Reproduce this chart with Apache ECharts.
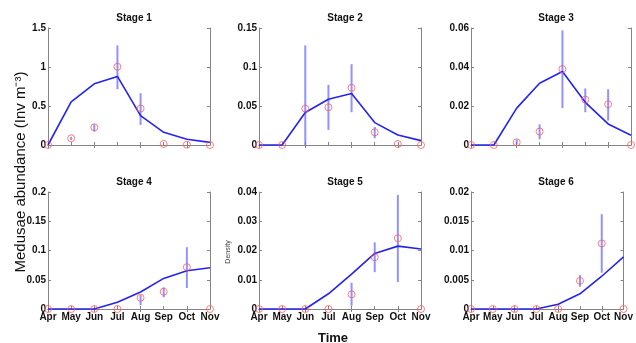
<!DOCTYPE html>
<html><head><meta charset="utf-8">
<script src="https://cdn.jsdelivr.net/npm/echarts@6/dist/echarts.min.js"></script>
<style>html,body{margin:0;padding:0;background:#fff}#c{width:636px;height:343px}</style>
</head><body><div id="c"></div>
<script>
var months = ['Apr','May','Jun','Jul','Aug','Sep','Oct','Nov'];
var titles = ['Stage 1','Stage 2','Stage 3','Stage 4','Stage 5','Stage 6'];
var yMax = [1.5, 0.15, 0.06, 0.2, 0.04, 0.02];
var yStep = [0.5, 0.05, 0.02, 0.05, 0.01, 0.005];

var model1 = [0, 0.553, 0.784, 0.879, 0.377, 0.163, 0.073, 0.034];
var model2 = [0, 0, 0.0416, 0.0587, 0.066, 0.0287, 0.0129, 0.0056];
var model3 = [0, 0, 0.0189, 0.0317, 0.0377, 0.0219, 0.0108, 0.005];
var model4 = [0, 0, 0, 0.0114, 0.029, 0.0523, 0.0653, 0.0705];
var model5 = [0, 0, 0, 0.0052, 0.0119, 0.019, 0.0215, 0.0205];
var model6 = [0, 0, 0, 0, 0.0008, 0.0026, 0.0056, 0.0089];

var obs1 = [0, 0.086, 0.227, 1.003, 0.467, 0.013, 0.004, 0];
var obs2 = [0, 0, 0.0467, 0.0484, 0.0733, 0.0163, 0.0013, 0];
var obs3 = [0, 0, 0.0014, 0.0069, 0.0389, 0.0233, 0.0209, 0];
var obs4 = [0, 0, 0, 0, 0.0193, 0.0295, 0.0716, 0];
var obs5 = [0, 0, 0, 0, 0.005, 0.0177, 0.0242, 0];
var obs6 = [0, 0, 0, 0, 0, 0.0048, 0.0112, 0];

var errLo1 = [null, 0.065, 0.171, 0.716, 0.257, null, null, null];
var errHi1 = [null, 0.105, 0.266, 1.277, 0.664, null, null, null];
var errLo2 = [null, null, 0, 0.0193, 0.042, 0.0086, null, null];
var errHi2 = [null, null, 0.1277, 0.0771, 0.1037, 0.0231, null, null];
var errLo3 = [null, null, 0.0003, 0.0029, 0.0189, 0.0168, 0.0125, null];
var errHi3 = [null, null, 0.0029, 0.0106, 0.0588, 0.029, 0.0286, null];
var errLo4 = [null, null, null, null, 0.0065, 0.02, 0.0358, null];
var errHi4 = [null, null, null, null, 0.0239, 0.037, 0.1057, null];
var errLo5 = [null, null, null, null, 0.0011, 0.0126, 0.0092, null];
var errHi5 = [null, null, null, null, 0.009, 0.0228, 0.039, null];
var errLo6 = [null, null, null, null, null, 0.0038, 0.0062, null];
var errHi6 = [null, null, null, null, null, 0.0058, 0.0162, null];

var models = [model1, model2, model3, model4, model5, model6];
var obs = [obs1, obs2, obs3, obs4, obs5, obs6];
var errLo = [errLo1, errLo2, errLo3, errLo4, errLo5, errLo6];
var errHi = [errHi1, errHi2, errHi3, errHi4, errHi5, errHi6];

var lefts = [48, 259, 471];
var widths = [162, 162, 160];
var tops = [28, 192];
var H = 117;
var axisCol = '#858585';
var lblStyle = {color: '#111', fontWeight: 'bold', fontSize: 10, fontFamily: 'Liberation Sans, Arial, sans-serif'};

var chart = echarts.init(document.getElementById('c'), null, {renderer: 'canvas'});
var grid = [], xAxis = [], yAxis = [], series = [], title = [];

for (var k = 0; k < 6; k++) {
  var col = k % 3, row = Math.floor(k / 3);
  grid.push({left: lefts[col], top: tops[row], width: widths[col], height: H, containLabel: false});
  title.push({text: titles[k], left: lefts[col] + widths[col] / 2, top: tops[row] - 20, textAlign: 'center',
    textStyle: {fontSize: 10, fontWeight: 'bold', color: '#111', fontFamily: 'Liberation Sans, Arial, sans-serif'}});
  var common = {type: 'category', data: months, boundaryGap: false, gridIndex: k,
    axisLine: {show: true, lineStyle: {color: axisCol, width: 1}},
    axisTick: {show: true, inside: true, length: 3, lineStyle: {color: axisCol}}, splitLine: {show: false}};
  xAxis.push(Object.assign({}, common, {position: 'bottom',
    axisLabel: {show: row === 1, margin: 3, interval: 0, ...lblStyle}}));
  xAxis.push(Object.assign({}, common, {position: 'top', axisLabel: {show: false}}));
  var ycommon = {type: 'value', gridIndex: k, min: 0, max: yMax[k], interval: yStep[k],
    axisLine: {show: true, lineStyle: {color: axisCol, width: 1}},
    axisTick: {show: true, inside: true, length: 3, lineStyle: {color: axisCol}}, splitLine: {show: false}};
  yAxis.push(Object.assign({}, ycommon, {position: 'left', axisLabel: {show: true, margin: 2, ...lblStyle}}));
  yAxis.push(Object.assign({}, ycommon, {position: 'right', axisLabel: {show: false}}));

  var ebData = [];
  for (var i = 0; i < months.length; i++) {
    if (errLo[k][i] !== null) ebData.push([i, errLo[k][i], errHi[k][i]]);
  }
  series.push({type: 'custom', xAxisIndex: 2 * k, yAxisIndex: 2 * k, data: ebData, z: 2, clip: false,
    encode: {x: 0, y: [1, 2]},
    renderItem: function (params, api) {
      var p1 = api.coord([api.value(0), api.value(1)]);
      var p2 = api.coord([api.value(0), api.value(2)]);
      return {type: 'line', shape: {x1: p1[0], y1: p1[1], x2: p2[0], y2: p2[1]},
        style: {stroke: 'rgba(110,110,255,0.75)', lineWidth: 2}};
    }});
  series.push({type: 'line', xAxisIndex: 2 * k, yAxisIndex: 2 * k, data: models[k], z: 3,
    showSymbol: false, symbol: 'none', clip: false,
    lineStyle: {color: '#2424f0', width: 1.6}});
  series.push({type: 'scatter', xAxisIndex: 2 * k, yAxisIndex: 2 * k, data: obs[k], z: 4, clip: false,
    symbol: 'circle', symbolSize: 7,
    itemStyle: {color: 'rgba(0,0,0,0)', borderColor: '#ff5a5a', borderWidth: 1}});
}

chart.setOption({
  animation: false,
  title: title,
  grid: grid, xAxis: xAxis, yAxis: yAxis, series: series,
  graphic: [
    {type: 'text', x: 21, y: 172, rotation: Math.PI / 2, style: {
      text: 'Medusae abundance (Inv m⁻³)', fill: '#111', fontSize: 15,
      fontFamily: 'Liberation Sans, Arial, sans-serif', textAlign: 'center', textVerticalAlign: 'middle'}},
    {type: 'text', x: 333, y: 338, style: {
      text: 'Time', fill: '#111', fontSize: 13, fontWeight: 'bold',
      fontFamily: 'Liberation Sans, Arial, sans-serif', textAlign: 'center', textVerticalAlign: 'middle'}},
    {type: 'text', x: 228, y: 252, rotation: Math.PI / 2, style: {
      text: 'Density', fill: '#444', fontSize: 7,
      fontFamily: 'Liberation Sans, Arial, sans-serif', textAlign: 'center', textVerticalAlign: 'middle'}}
  ]
});
</script></body></html>
